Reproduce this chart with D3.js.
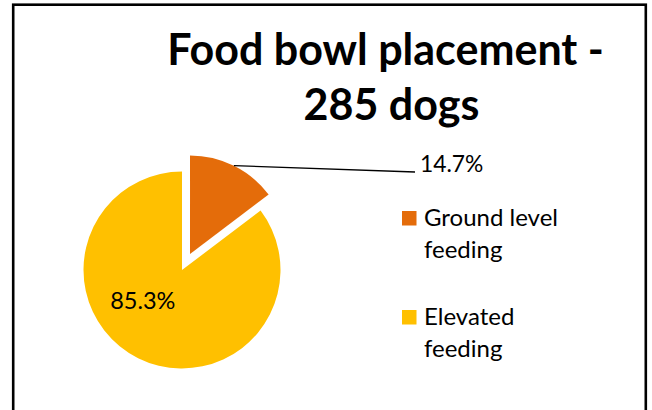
<!DOCTYPE html>
<html>
<head>
<meta charset="utf-8">
<script src="https://cdn.jsdelivr.net/npm/d3@7"></script>
<style>
  html, body { margin: 0; padding: 0; background: #fff; }
  svg { display: block; }
</style>
</head>
<body>
<svg id="chart" width="652" height="410"></svg>
<script>
// Food bowl placement among 285 dogs
const titleLines = ["Food bowl placement -", "285 dogs"];
const categories = ["Ground level feeding", "Elevated feeding"];
const legendLines = [["Ground level", "feeding"], ["Elevated", "feeding"]];
const shares = [14.7, 85.3];
const colors = ["#E46C0A", "#FFC000"];

const W = 652, H = 410;
const svg = d3.select("#chart");

// slide frame
svg.append("rect")
  .attr("x", 13.2).attr("y", 4.7)
  .attr("width", 632.6).attr("height", 460)
  .attr("fill", "none").attr("stroke", "#000").attr("stroke-width", 2.6);

// title
const title = svg.append("g")
  .attr("font-family", "Lato, 'Open Sans', sans-serif")
  .attr("font-weight", 700)
  .attr("font-size", 43)
  .attr("fill", "#000");
title.append("text").attr("x", 385.5).attr("y", 65).attr("text-anchor", "middle").text(titleLines[0]);
title.append("text").attr("x", 391.5).attr("y", 120).attr("text-anchor", "middle").text(titleLines[1]);

// pie
const cx = 182, cy = 270, R = 98.5, explode = 18;
const pie = d3.pie().sort(null).value(d => d).startAngle(0);
const arcs = pie(shares);
const arc = d3.arc().innerRadius(0).outerRadius(R);
const fmt = d => d3.format(".1f")(d) + "%";

const g = svg.append("g").attr("transform", `translate(${cx},${cy})`);
const mid = a => (a.startAngle + a.endAngle) / 2;
const polar = (ang, r) => [Math.sin(ang) * r, -Math.cos(ang) * r];

g.selectAll("path.slice")
  .data(arcs)
  .join("path")
  .attr("class", "slice")
  .attr("d", arc)
  .attr("fill", (d, i) => colors[i])
  .attr("transform", (d, i) => {
    if (i !== 0) return null;
    const [dx, dy] = polar(mid(d), explode);
    return `translate(${dx},${dy})`;
  });

// leader line and outside label for the exploded slice
const a0 = arcs[0];
const [ox, oy] = polar(mid(a0), explode);
const [px, py] = polar(mid(a0), R);
const labelFont = "Lato, 'Open Sans', sans-serif";
g.append("line")
  .attr("x1", ox + px).attr("y1", oy + py)
  .attr("x2", 415 - cx).attr("y2", 172 - cy)
  .attr("stroke", "#000").attr("stroke-width", 1.3);
g.append("text")
  .attr("x", 420 - cx).attr("y", 172 - cy)
  .attr("font-family", labelFont).attr("font-size", 22.8).attr("fill", "#000")
  .text(fmt(a0.data));

// inside label for the large slice
const a1 = arcs[1];
const [lx, ly] = polar(4.03, R * 0.5);
g.append("text")
  .attr("x", lx - 1).attr("y", ly + 8)
  .attr("text-anchor", "middle")
  .attr("font-family", labelFont).attr("font-size", 23.5).attr("fill", "#000")
  .text(fmt(a1.data));

// legend
const legend = svg.append("g").attr("transform", "translate(402,211)");
const item = legend.selectAll("g.item")
  .data(categories)
  .join("g")
  .attr("class", "item")
  .attr("transform", (d, i) => `translate(0,${i * 99})`);
item.append("rect")
  .attr("width", 14.5).attr("height", 14.5)
  .attr("fill", (d, i) => colors[i]);
item.each(function(d, i) {
  const t = d3.select(this).append("text")
    .attr("font-family", labelFont).attr("font-size", 24).attr("fill", "#000");
  legendLines[i].forEach((ln, k) => {
    t.append("tspan").attr("x", 22).attr("y", 15 + k * 32.3).text(ln);
  });
});
</script>
</body>
</html>
